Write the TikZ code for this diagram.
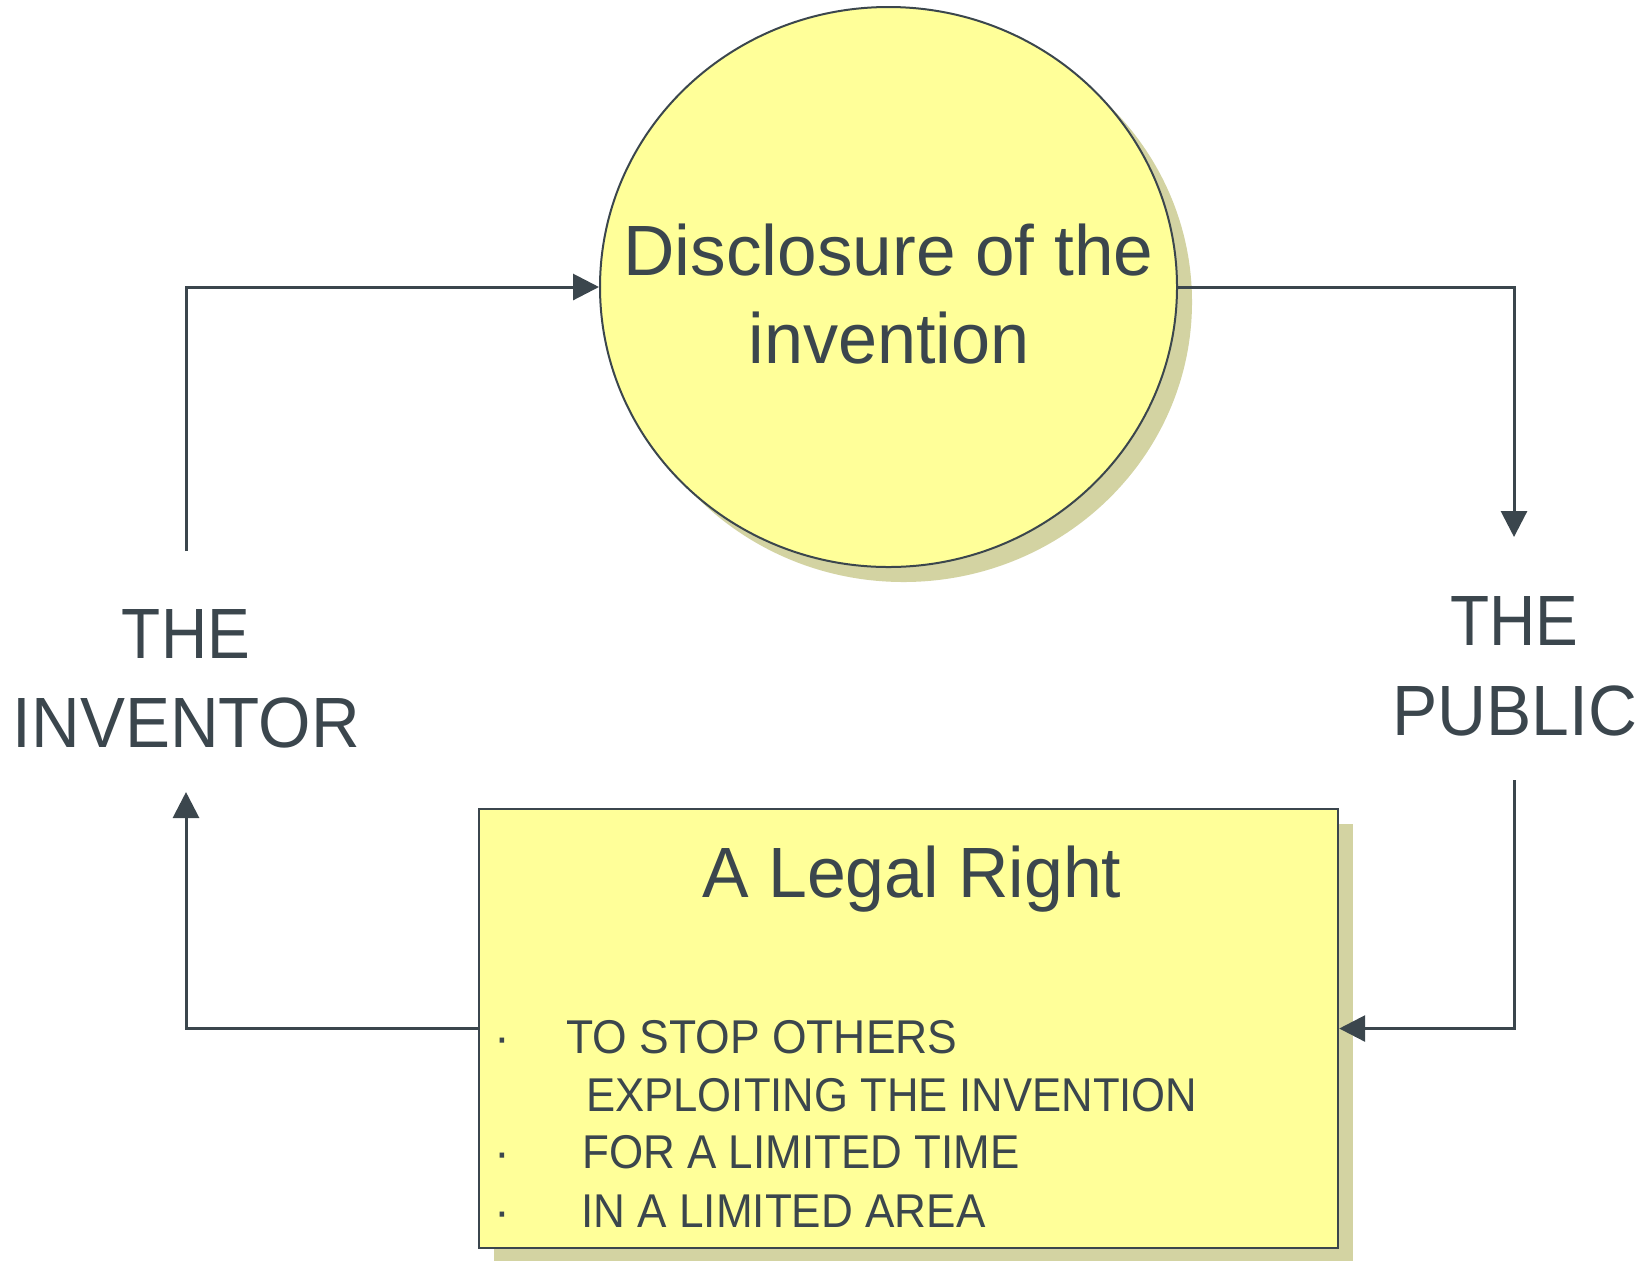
\documentclass[tikz,border=0pt]{standalone}
\usepackage{fontspec}
\setmainfont{Liberation Sans}
\usepackage{graphicx}
\usetikzlibrary{arrows.meta,shapes.geometric,shadows}
\definecolor{ink}{HTML}{3B464D}
\definecolor{pale}{HTML}{FFFF99}
\definecolor{shade}{HTML}{D3D3A2}
\newcommand{\bigfont}{\fontsize{35.6pt}{40pt}\selectfont}
\newcommand{\smallfont}{\fontsize{23.7pt}{28pt}\selectfont}
\newcommand{\fitw}[2]{\resizebox{#1}{\height}{#2}}
\begin{document}
\begin{tikzpicture}[x=0.5pt,y=-0.5pt,
  txt/.style={inner sep=0pt, anchor=base, text=ink},
  ltxt/.style={inner sep=0pt, anchor=base west, text=ink},
  conn/.style={draw=ink, line width=1.5pt},
  arr/.style={conn, -{Triangle[length=13pt,width=13pt]}},
  shapeshadow/.style={general shadow={fill=shade, shadow xshift=7.5pt, shadow yshift=-7.5pt}},
  bubble/.style={ellipse, draw=ink, line width=1pt, fill=pale, inner sep=0pt, minimum width=288.5pt, minimum height=280pt, shapeshadow},
  panel/.style={rectangle, draw=ink, line width=1.2pt, fill=pale, inner sep=0pt, minimum width=429.5pt, minimum height=219.5pt, shapeshadow}]
\useasboundingbox (0,0) rectangle (1652,1260);
% shapes
\node[bubble] (disc) at (888.5,287) {};
\node[panel] (box) at (908.5,1028.5) {};
% texts
\node[txt] (disc1) at (888.5,275) {\fitw{265pt}{\bigfont Disclosure of the}};
\node[txt] (disc2) at (889,363) {\fitw{140.5pt}{\bigfont invention}};
\node[txt] (inv1) at (186,658) {\fitw{64pt}{\bigfont THE}};
\node[txt] (inv2) at (186.5,747) {\fitw{173.5pt}{\bigfont INVENTOR}};
\node[txt] (pub1) at (1514,645) {\fitw{64pt}{\bigfont THE}};
\node[txt] (pub2) at (1515,735) {\fitw{122.5pt}{\bigfont PUBLIC}};
\node[txt] (legal) at (912,897) {\fitw{209.5pt}{\bigfont A Legal Right}};
\node[txt] (dot1) at (502,1053.5) {\smallfont ·};
\node[ltxt] (b1) at (566,1053.5) {\fitw{195.5pt}{\smallfont TO STOP OTHERS}};
\node[ltxt] (b1b) at (586,1111.5) {\fitw{305.5pt}{\smallfont EXPLOITING THE INVENTION}};
\node[txt] (dot2) at (502,1168.5) {\smallfont ·};
\node[ltxt] (b2) at (582,1168.5) {\fitw{218.5pt}{\smallfont FOR A LIMITED TIME}};
\node[txt] (dot3) at (502,1227.5) {\smallfont ·};
\node[ltxt] (b3) at (581,1227.5) {\fitw{202pt}{\smallfont IN A LIMITED AREA}};
% connector ends
\coordinate (invtop) at (186,551);
\coordinate (invbot) at (186,792);
\coordinate (pubtop) at (1514,537);
\coordinate (pubbot) at (1514,780);
% connectors
\draw[arr] (invtop) |- (disc.west);
\draw[arr] (disc.east) -| (pubtop);
\draw[arr] (pubbot) |- (box.east);
\draw[arr] (box.west) -| (invbot);
\end{tikzpicture}
\end{document}
